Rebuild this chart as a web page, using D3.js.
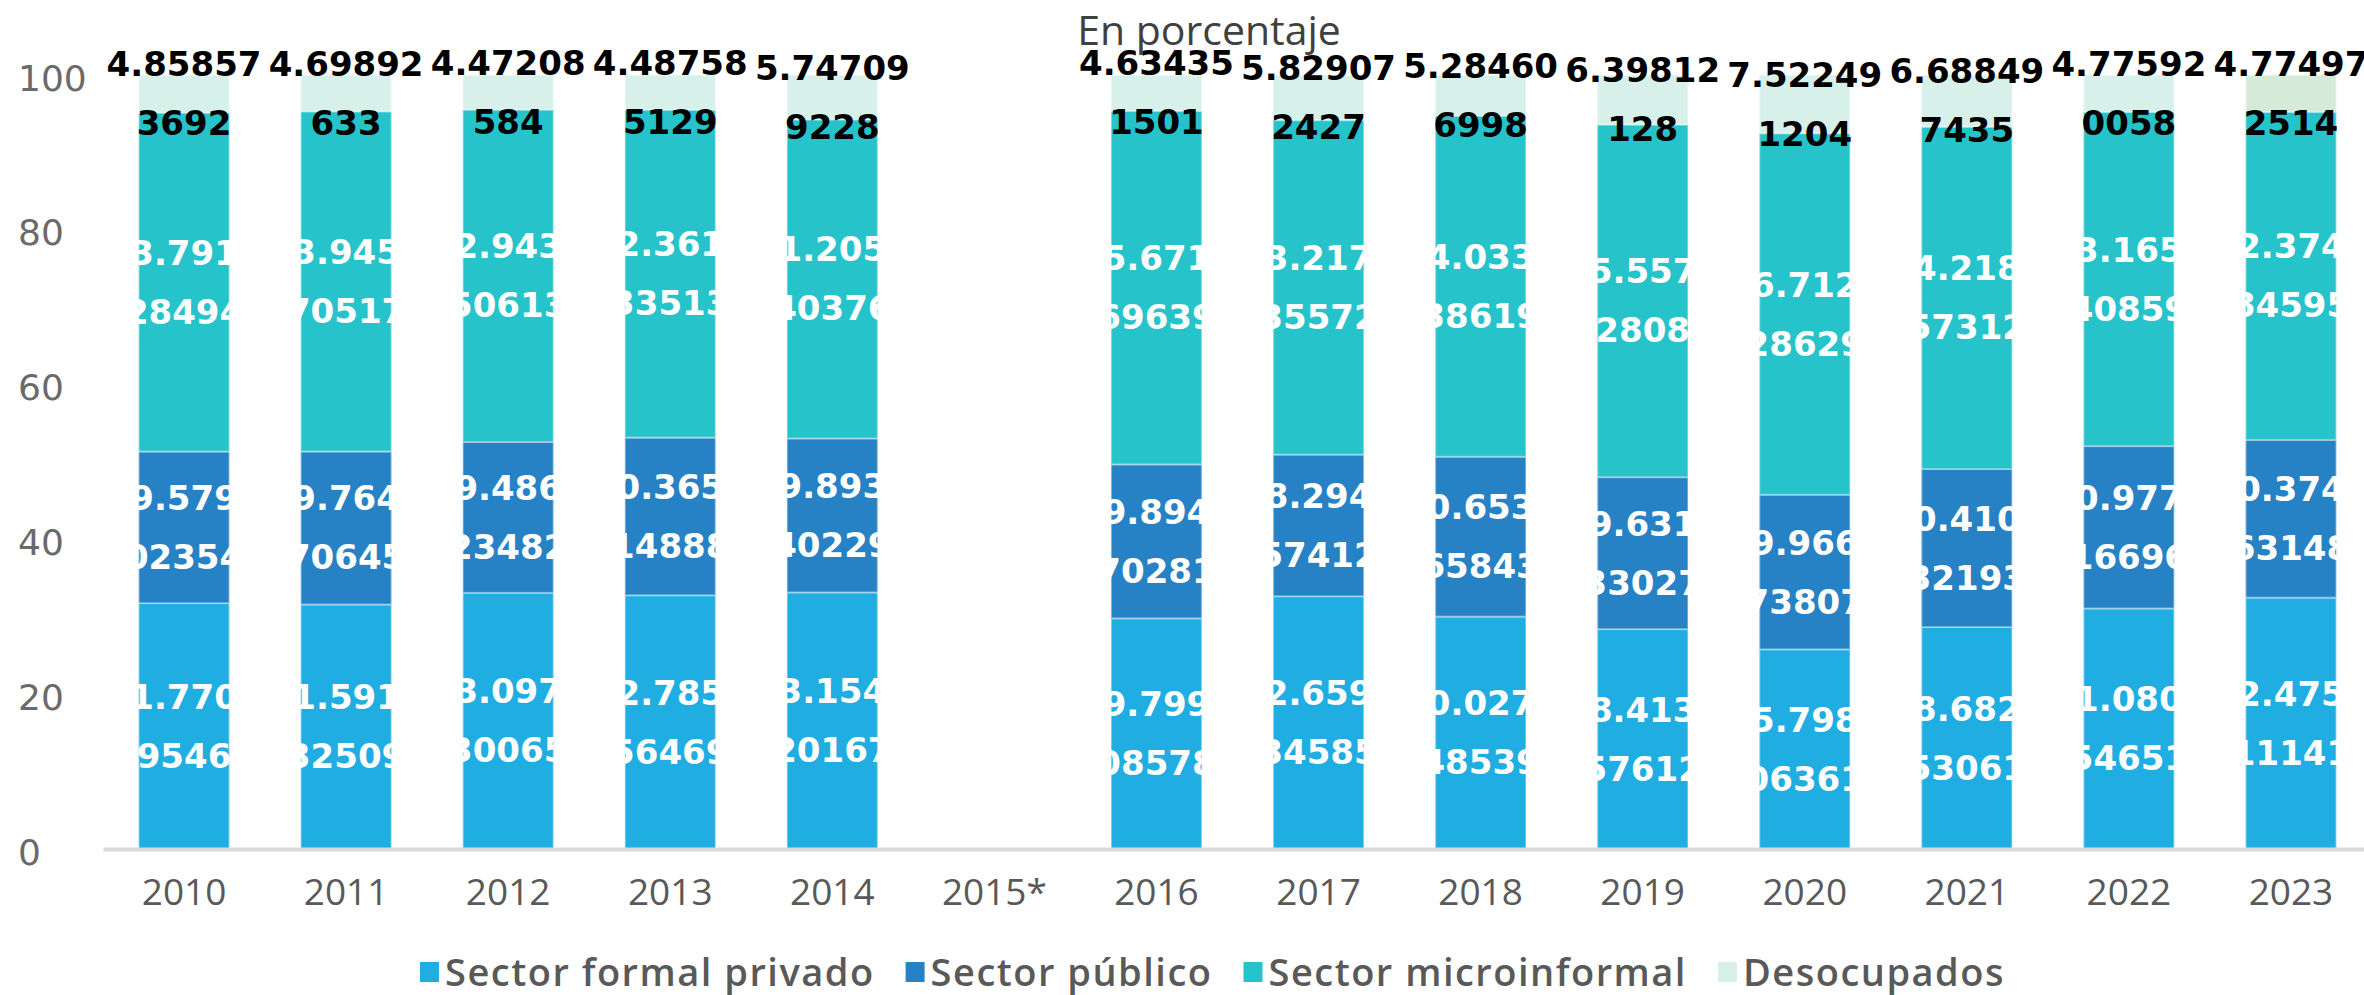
<!DOCTYPE html>
<html>
<head>
<meta charset="utf-8">
<script src="https://cdn.jsdelivr.net/npm/d3@7"></script>
<style>
  body { margin: 0; background: #fff; }
</style>
</head>
<body>
<div class="canvas"></div>
<script>
// Data (percent of labour force)
const years = ['2010', '2011', '2012', '2013', '2014', '2015*', '2016', '2017', '2018', '2019', '2020', '2021', '2022', '2023']
const seriesNames = ['Sector formal privado', 'Sector público', 'Sector microinformal', 'Desocupados']

// labels wrap after 7 characters, the 7th is hidden outside the bar
const formalPrivado = [31.77009546, 31.591032509, 33.097030065, 32.785056469, 33.154020167, null, 29.799008578, 32.659034585, 30.027048539, 28.413057612, 25.798006361, 28.682053061, 31.080054651, 32.475011141]
const sectorPublico = [19.579002354, 19.764070645, 19.486023482, 20.365014888, 19.893040229, null, 19.894070281, 18.294057412, 20.653065843, 19.631033027, 19.966073807, 20.410032193, 20.977016696, 20.374063148]
const microinformal = [43.791028494, 43.945070517, 42.943050613, 42.361033513, 41.205040376, null, 45.671069639, 43.217035572, 44.033038619, 45.55702808, 46.712028629, 44.218057312, 43.165040859, 42.374084595]
const desocupados = [4.858573692, 4.69892633, 4.47208584, 4.487585129, 5.747099228, null, 4.634351501, 5.829072427, 5.284606998, 6.39812128, 7.522491204, 6.688497435, 4.775920058, 4.774972514]

const yTicks = [0, 20, 40, 60, 80, 100]

const colours = ['#1fade2', '#2781c5', '#27c3ca', '#d8f0ea']
const lastDesColour = '#d5ebd8'

const labelFont = '"DejaVu Sans", sans-serif'
const textFont = '"Open Sans", Lato, sans-serif'

// Build rows for the stack
const rows = years.map((year, i) => ({
  year,
  has: formalPrivado[i] !== null,
  [seriesNames[0]]: formalPrivado[i] || 0,
  [seriesNames[1]]: sectorPublico[i] || 0,
  [seriesNames[2]]: microinformal[i] || 0,
  [seriesNames[3]]: desocupados[i] || 0,
  raw: [formalPrivado[i], sectorPublico[i], microinformal[i], desocupados[i]]
}))

const svg = d3.select('.canvas')
  .append('svg')
  .attr('width', 2364)
  .attr('height', 995)
  .style('display', 'block')

const x = d3.scaleBand()
  .domain(years)
  .range([103, 2372])
  .paddingInner(0.44)
  .paddingOuter(0.22)

const y = d3.scaleLinear()
  .domain([0, 100])
  .range([849, 75])

const stack = d3.stack().keys(seriesNames)
const stacked = stack(rows)

// Title
svg.append('text')
  .attr('x', 1209)
  .attr('y', 45)
  .attr('text-anchor', 'middle')
  .style('font-family', textFont)
  .style('font-size', '41px')
  .attr('fill', '#404040')
  .text('En porcentaje')

// Y axis (labels only, left aligned)
const yAxis = svg.append('g')
  .attr('transform', 'translate(18, 0)')
  .call(d3.axisLeft(y).tickValues(yTicks).tickSize(0).tickPadding(0))
yAxis.select('.domain').remove()
yAxis.selectAll('text')
  .attr('text-anchor', 'start')
  .attr('x', 0)
  .attr('dy', null)
  .attr('y', 15)
  .style('font-family', '"DejaVu Sans", sans-serif')
  .style('font-size', '36px')
  .attr('fill', '#6a6a6a')

// Bars
const groups = svg.append('g')
  .selectAll('g')
  .data(stacked)
  .enter()
  .append('g')

groups.selectAll('rect')
  .data((d, i) => d.map(seg => ({ seg, si: i })))
  .enter()
  .filter(d => d.seg.data.has)
  .append('rect')
  .attr('x', d => x(d.seg.data.year))
  .attr('width', x.bandwidth())
  .attr('y', d => y(d.seg[1]))
  .attr('height', d => y(d.seg[0]) - y(d.seg[1]))
  .attr('fill', d => (d.si === 3 && d.seg.data.year === '2023') ? lastDesColour : colours[d.si])
  .attr('stroke', '#ffffff')
  .attr('stroke-opacity', 0.35)
  .attr('stroke-width', 2)

// X axis
const xAxis = svg.append('g')
  .attr('transform', `translate(0, ${y(0)})`)
  .call(d3.axisBottom(x).tickSize(0).tickPadding(0))
xAxis.select('.domain')
  .attr('stroke', '#d9d9d9')
  .attr('stroke-width', 4)
xAxis.selectAll('text')
  .attr('dy', null)
  .attr('y', 56)
  .style('font-family', textFont)
  .style('font-size', '37px')
  .attr('fill', '#595959')

// Data labels: two wrapped lines centred in each segment
const labels = svg.append('g')
stacked.forEach((series, si) => {
  series.forEach(seg => {
    if (!seg.data.has) return
    const str = String(seg.data.raw[si])
    const lines = [str.slice(0, 7), str.slice(7)]
    const cy = (y(seg[0]) + y(seg[1])) / 2
    const cx = x(seg.data.year) + x.bandwidth() / 2
    lines.forEach((line, li) => {
      labels.append('text')
        .attr('x', cx)
        .attr('y', cy + (li === 0 ? -29.5 : 29.5))
        .attr('text-anchor', 'middle')
        .attr('dominant-baseline', 'central')
        .style('font-family', labelFont)
        .style('font-size', '34px')
        .style('font-weight', 'bold')
        .attr('fill', si === 3 ? '#000000' : '#ffffff')
        .text(line)
    })
  })
})

// Legend
const legend = svg.append('g')
let lx = 420
seriesNames.forEach((name, i) => {
  legend.append('rect')
    .attr('x', lx)
    .attr('y', 962)
    .attr('width', 19)
    .attr('height', 20)
    .attr('fill', colours[i])
  const t = legend.append('text')
    .attr('x', lx + 25)
    .attr('y', 986)
    .style('font-family', textFont)
    .style('font-size', '38px')
    .style('font-weight', 600)
    .style('letter-spacing', '1.5px')
    .attr('fill', '#595959')
    .text(name)
  lx += 25 + t.node().getComputedTextLength() + 31
})
</script>
</body>
</html>
